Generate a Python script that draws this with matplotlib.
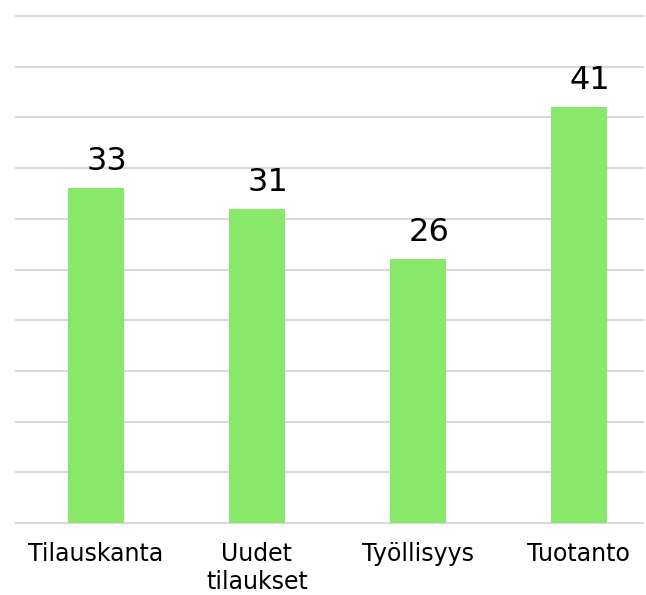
import matplotlib.pyplot as plt

# Data
categories = ["Tilauskanta", "Uudet\ntilaukset", "Työllisyys", "Tuotanto"]
values = [33, 31, 26, 41]

fig = plt.figure(figsize=(6.46, 5.95), dpi=100)
ax = fig.add_axes([16 / 646, 1 - 523 / 595, 627 / 646, 507 / 595])

x = range(len(categories))
ax.bar(x, values, width=0.35, color="#88e86a", zorder=3)

# value labels sit a little right of bar centre, as in the original
for i, v in enumerate(values):
    ax.annotate(str(v), (i, v), xytext=(8, 8), textcoords="offset points",
                ha="center", va="bottom", fontsize=23, color="black")

ax.set_ylim(0, 50)
ax.set_xlim(-0.497, 3.398)
ax.set_yticks(range(0, 51, 5))
ax.yaxis.grid(True, color="#d9d9d9", linewidth=1.5, zorder=0)
for line in ax.get_ygridlines():
    line.set_clip_on(False)
ax.tick_params(axis="y", left=False, labelleft=False)
ax.tick_params(axis="x", length=0, pad=14, labelsize=17)
ax.set_xticks(list(x))
ax.set_xticklabels(categories, linespacing=1.2)
for s in ["top", "right", "left"]:
    ax.spines[s].set_visible(False)
ax.spines["bottom"].set_color("#d9d9d9")
ax.spines["bottom"].set_linewidth(1.5)

fig.savefig("out.png", dpi=100)
